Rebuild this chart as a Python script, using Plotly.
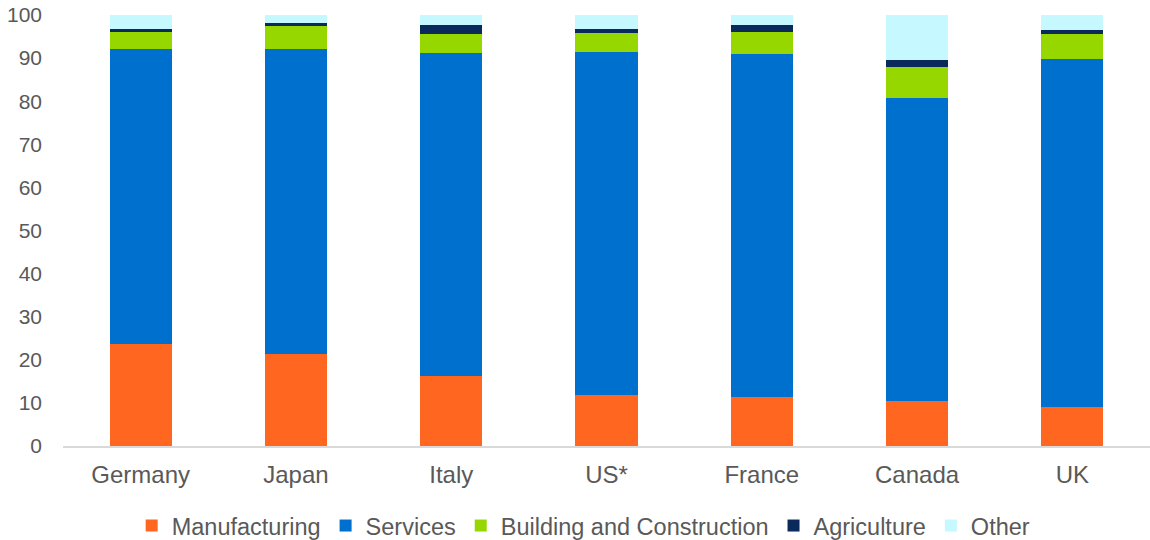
import plotly.graph_objects as go

countries = ["Germany", "Japan", "Italy", "US*", "France", "Canada", "UK"]
manufacturing = [23.6, 21.4, 16.3, 11.9, 11.4, 10.5, 9.1]
services = [68.4, 70.6, 74.8, 79.6, 79.6, 70.3, 80.8]
building = [4.1, 5.4, 4.6, 4.3, 5.1, 7.2, 5.7]
agriculture = [0.6, 0.7, 1.9, 1.0, 1.6, 1.6, 0.9]
other = [3.3, 1.9, 2.4, 3.2, 2.3, 10.4, 3.5]

series = [
    ("Manufacturing", manufacturing, "#FF6720"),
    ("Services", services, "#0070CF"),
    ("Building and Construction", building, "#97D700"),
    ("Agriculture", agriculture, "#0A2A5B"),
    ("Other", other, "#C5F8FF"),
]

fig = go.Figure()
for name, vals, color in series:
    fig.add_trace(go.Bar(
        x=countries, y=vals, name=name,
        marker=dict(color=color, line=dict(width=0)),
    ))

font_family = "Liberation Sans, Arial, sans-serif"
fig.update_layout(
    barmode="stack",
    bargap=0.6,
    width=1150, height=540,
    margin=dict(l=63, r=0, t=15, b=94, autoexpand=False),
    plot_bgcolor="white", paper_bgcolor="white",
    font=dict(family=font_family, color="#595959", size=21),
    xaxis=dict(
        showline=True, linecolor="#D9D9D9", linewidth=2,
        tickfont=dict(size=24, color="#595959"),
        showgrid=False, ticks="", ticklabelstandoff=6,
        automargin=False,
    ),
    yaxis=dict(
        range=[0, 100], dtick=10, showgrid=False, zeroline=False,
        showline=False, tickfont=dict(size=21, color="#595959"),
        ticks="", ticklabelstandoff=20, automargin=False,
        ticklabeloverflow="allow",
    ),
    legend=dict(
        orientation="h", x=0.479, xanchor="center", y=-0.134, yanchor="top",
        font=dict(size=23.5, color="#595959"), traceorder="normal",
        itemwidth=30,
    ),
    showlegend=True,
)

fig.write_html(
    "out.html",
    config={"displayModeBar": False},
    post_script="document.body.style.margin='0';",
)
